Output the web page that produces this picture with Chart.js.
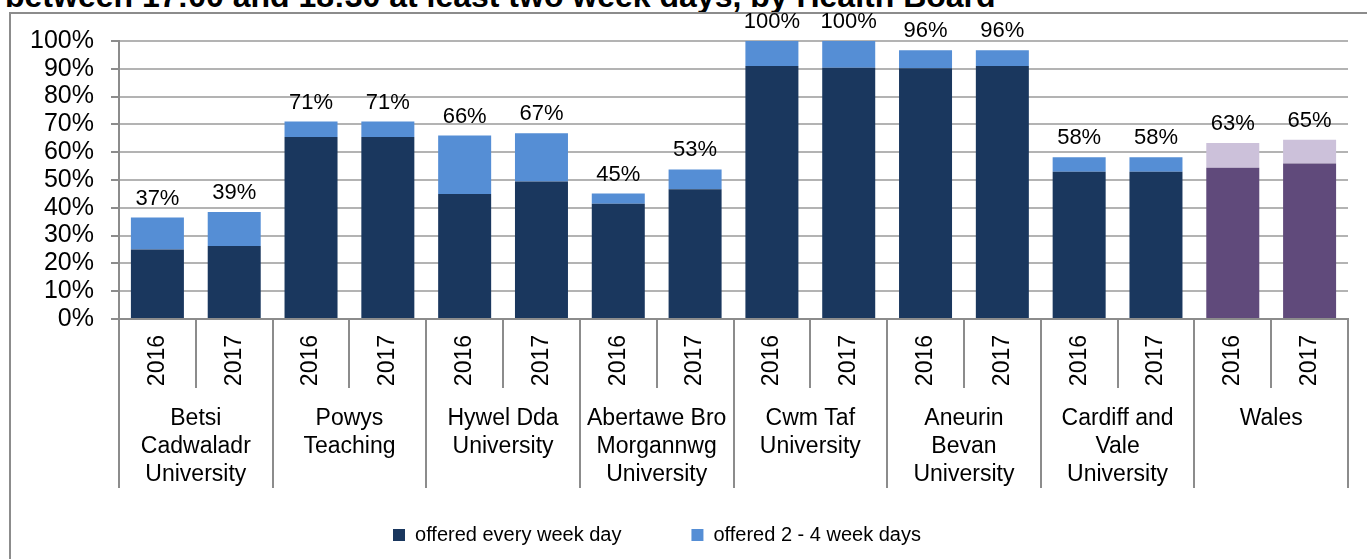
<!DOCTYPE html>
<html><head><meta charset="utf-8">
<script src="https://cdn.jsdelivr.net/npm/chart.js@4.4.1/dist/chart.umd.min.js"></script>
<style>
html,body{margin:0;padding:0;width:1367px;height:559px;overflow:hidden;background:#fff;font-family:"Liberation Sans",Arial,sans-serif;}
#title{position:absolute;left:5px;top:-20px;font-weight:bold;font-size:32px;line-height:32px;white-space:nowrap;color:#000;}
#frame{position:absolute;left:9px;top:12px;width:1400px;height:700px;border:2px solid #8c8c8c;box-sizing:border-box;}
canvas{position:absolute;left:0;top:0;}
</style></head><body>
<div id="title">between 17:00 and 18:30 at least two week days, by Health Board</div>
<div id="frame"></div>
<canvas id="c" width="1367" height="559"></canvas>
<script>
// ---- data ----
const groups = [
  ["Betsi", "Cadwaladr", "University"],
  ["Powys", "Teaching"],
  ["Hywel Dda", "University"],
  ["Abertawe Bro", "Morgannwg", "University"],
  ["Cwm Taf", "University"],
  ["Aneurin", "Bevan", "University"],
  ["Cardiff and", "Vale", "University"],
  ["Wales"]
];
const years = ["2016", "2017"];
const seriesNames = ["offered every week day", "offered 2 - 4 week days"];
const everyDay  = [25, 26.3, 65.5, 65.5, 45, 49.5, 41.5, 46.7, 91, 90.4, 90.2, 91, 53, 53, 54.4, 55.9];
const twoToFour = [11.5, 12.2, 5.5, 5.5, 21, 17.3, 3.6, 7.1, 9, 9.6, 6.5, 5.7, 5.2, 5.2, 8.9, 8.6];
const totalLabels = ["37%", "39%", "71%", "71%", "66%", "67%", "45%", "53%", "100%", "100%", "96%", "96%", "58%", "58%", "63%", "65%"];
const yMin = 0, yMax = 100, yStep = 10;

// ---- styles ----
const FONT = '"Liberation Sans", Arial, sans-serif';
const NAVY = '#1a375e', LIGHTBLUE = '#558ed5', PURPLE = '#604a7b', LIGHTPURPLE = '#ccc1da';
const GRID = '#b3b3b3', AXIS = '#8c8c8c';

const yearLabels = [];
groups.forEach(() => years.forEach(y => yearLabels.push(y)));
const isWales = i => groups[Math.floor(i / years.length)][0] === 'Wales';

const totalsPlugin = {
  id: 'totals',
  afterDatasetsDraw(chart) {
    const ctx = chart.ctx;
    const meta = chart.getDatasetMeta(1);
    ctx.save();
    ctx.font = '22px ' + FONT;
    ctx.fillStyle = '#000';
    ctx.textAlign = 'center';
    ctx.textBaseline = 'middle';
    meta.data.forEach((bar, i) => {
      ctx.fillText(totalLabels[i], bar.x, bar.y - 19);
    });
    ctx.restore();
  }
};

const legendPad = ['\u2003\u2003\u2003', '\u2003\u2002\u2009'];
const legendColors = [NAVY, LIGHTBLUE];

new Chart(document.getElementById('c'), {
  type: 'bar',
  data: {
    labels: yearLabels,
    datasets: [
      { label: seriesNames[0], data: everyDay, backgroundColor: c => isWales(c.dataIndex) ? PURPLE : NAVY, stack: 's' },
      { label: seriesNames[1], data: twoToFour, backgroundColor: c => isWales(c.dataIndex) ? LIGHTPURPLE : LIGHTBLUE, stack: 's' }
    ]
  },
  options: {
    responsive: false,
    animation: false,
    devicePixelRatio: 1,
    layout: { padding: { top: 41, left: 0, right: 19, bottom: 4 } },
    datasets: { bar: { categoryPercentage: 1, barPercentage: 0.69, borderWidth: 0 } },
    plugins: {
      title: { display: false },
      tooltip: { enabled: false },
      legend: {
        position: 'bottom',
        align: 'center',
        labels: {
          boxWidth: 12, boxHeight: 12, padding: 10, color: '#000',
          font: { size: 20, family: FONT },
          generateLabels: chart => chart.data.datasets.map((ds, i) => ({
            text: ds.label + legendPad[i], fillStyle: legendColors[i], strokeStyle: legendColors[i],
            lineWidth: 0, hidden: false, datasetIndex: i, fontColor: '#000'
          }))
        }
      }
    },
    scales: {
      y: {
        stacked: true, min: yMin, max: yMax,
        afterFit: s => { s.width = 119; },
        ticks: { stepSize: yStep, autoSkip: false, padding: 17, color: '#000', font: { size: 25, family: FONT }, callback: v => v + '%' },
        grid: { color: GRID, lineWidth: 2, tickLength: 8, tickColor: AXIS },
        border: { color: AXIS, width: 2 }
      },
      x: {
        stacked: true, weight: 0, offset: true,
        afterFit: s => { s.height = 69; },
        ticks: { autoSkip: false, minRotation: 90, maxRotation: 90, padding: -53, color: '#000', font: { size: 23, family: FONT } },
        grid: { offset: true, drawOnChartArea: false, drawTicks: true, tickLength: 69, color: AXIS, tickColor: AXIS, lineWidth: 2, tickWidth: 2 },
        border: { color: AXIS, width: 2 }
      },
      x2: {
        type: 'category', position: 'bottom', weight: 1, offset: true,
        labels: groups,
        afterFit: s => { s.height = 127; },
        ticks: { autoSkip: false, maxRotation: 0, minRotation: 0, padding: -83, color: '#000', font: { size: 23, family: FONT, lineHeight: '28px' } },
        grid: { offset: true, drawOnChartArea: false, drawTicks: true, tickLength: 100, color: AXIS, tickColor: AXIS, lineWidth: 2, tickWidth: 2 },
        border: { display: false }
      }
    }
  },
  plugins: [totalsPlugin]
});
</script>
</body></html>
